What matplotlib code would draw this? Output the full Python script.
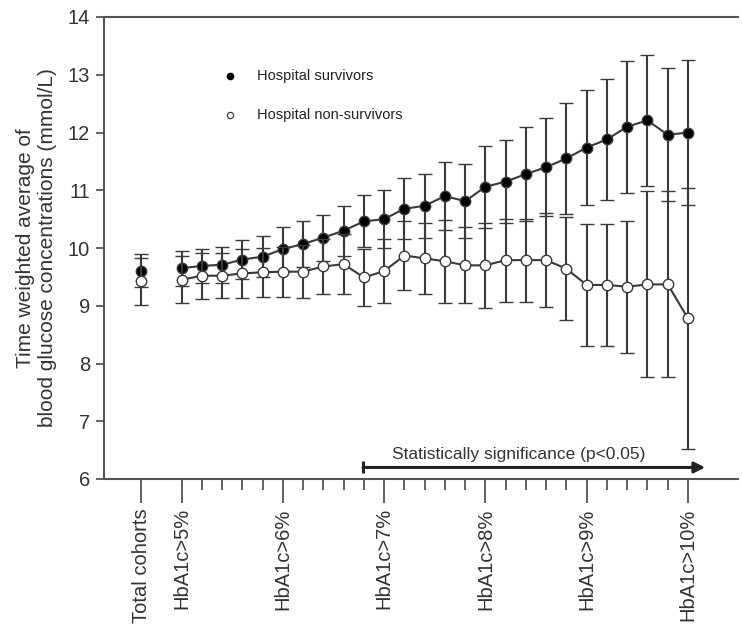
import matplotlib
matplotlib.use("Agg")
import matplotlib.pyplot as plt

plt.rcParams['font.family'] = ['Liberation Sans', 'DejaVu Sans']

# x categories: total cohort first, then HbA1c cut-offs (%)
hba1c_cut = [5.0, 5.2, 5.4, 5.6, 5.8, 6.0, 6.2, 6.4, 6.6, 6.8, 7.0, 7.2, 7.4,
             7.6, 7.8, 8.0, 8.2, 8.4, 8.6, 8.8, 9.0, 9.2, 9.4, 9.6, 9.8, 10.0]
major_cuts = [5, 6, 7, 8, 9, 10]

# values (first value = total cohort)
surv_mean = [9.61, 9.65, 9.69, 9.71, 9.80, 9.85, 9.98, 10.07, 10.18, 10.30,
             10.46, 10.50, 10.68, 10.73, 10.90, 10.81, 11.06, 11.15, 11.28,
             11.40, 11.55, 11.74, 11.88, 12.10, 12.21, 11.96, 12.00]
surv_err = [0.28, 0.30, 0.30, 0.31, 0.34, 0.36, 0.38, 0.40, 0.40, 0.43,
            0.45, 0.50, 0.53, 0.56, 0.59, 0.64, 0.71, 0.72, 0.82, 0.85,
            0.96, 1.00, 1.05, 1.14, 1.14, 1.15, 1.26]
nonsurv_mean = [9.42, 9.45, 9.52, 9.52, 9.56, 9.58, 9.59, 9.59, 9.68, 9.72,
                9.49, 9.60, 9.87, 9.82, 9.77, 9.70, 9.70, 9.79, 9.79, 9.79,
                9.64, 9.36, 9.36, 9.33, 9.37, 9.37, 8.78]
nonsurv_err = [0.40, 0.41, 0.40, 0.39, 0.43, 0.42, 0.43, 0.46, 0.48, 0.52,
               0.49, 0.56, 0.60, 0.62, 0.72, 0.66, 0.74, 0.72, 0.72, 0.81,
               0.89, 1.06, 1.06, 1.14, 1.61, 1.61, 2.26]


def cut_pos(c):
    # total cohort sits at 0, cut-offs start at 2 with one slot per 0.2 %
    return 2 + round((c - 5.0) / 0.2)


xs = [cut_pos(c) for c in hba1c_cut]
dark = '#3a3a3a'

fig = plt.figure(figsize=(7.42, 6.28), dpi=100)
ax = fig.add_axes([104 / 742, 149 / 628, 634 / 742, 462 / 628])

eb = dict(ecolor=dark, elinewidth=1.5, capsize=5, capthick=1.5, color=dark,
          lw=1.5, ms=7.5, mew=1.0, mec=dark)

# hospital survivors
ax.errorbar([0], surv_mean[:1], yerr=surv_err[:1], fmt='o', mfc='black', zorder=3, **eb)
ax.errorbar(xs, surv_mean[1:], yerr=surv_err[1:], fmt='-o', mfc='black', zorder=3, **eb)
# hospital non-survivors
ax.errorbar([0], nonsurv_mean[:1], yerr=nonsurv_err[:1], fmt='o', mfc='white', zorder=4, **eb)
ax.errorbar(xs, nonsurv_mean[1:], yerr=nonsurv_err[1:], fmt='-o', mfc='white', zorder=4, **eb)

# legend drawn inside like the original
ax.plot([4.39], [12.98], 'o', color='black', ms=4.5)
ax.plot([4.39], [12.30], 'o', mfc='white', mec=dark, ms=4.5, mew=0.9)
ax.text(5.73, 12.98, 'Hospital survivors', fontsize=10.5, va='center', color='#222222')
ax.text(5.73, 12.30, 'Hospital non-survivors', fontsize=10.5, va='center', color='#222222')

# significance arrow
ax.annotate('', xy=(27.85, 6.20), xytext=(10.96, 6.20),
            arrowprops=dict(arrowstyle='-|>', color='#222222', lw=2.2,
                            mutation_scale=16, shrinkA=0, shrinkB=0))
ax.plot([10.96], [6.20], marker='|', ms=9, mew=2.2, color='#222222')
ax.text(18.66, 6.42, 'Statistically significance (p<0.05)', fontsize=12.5,
        ha='center', va='center', color='#333333')

ax.set_xlim(-1.83, 29.47)
ax.set_ylim(6, 14)
ax.set_yticks(range(6, 15))
ax.tick_params(axis='y', direction='out', length=6, width=1.3, colors='#555555',
               labelcolor='#333333', labelsize=14.5, pad=4)

major_x = [0] + [cut_pos(c) for c in major_cuts]
major_lbl = ['Total cohorts'] + ['HbA1c>%d%%' % c for c in major_cuts]
ax.set_xticks(major_x)
ax.set_xticklabels(major_lbl, rotation=90, fontsize=14.5, color='#333333')
ax.set_xticks([p for p in xs if p not in major_x], minor=True)
ax.tick_params(axis='x', which='major', direction='out', length=17, width=1.3,
               colors='#555555', labelcolor='#333333', pad=4)
ax.tick_params(axis='x', which='minor', direction='out', length=8, width=1.3,
               colors='#555555')

ax.set_ylabel('Time weighted average of\nblood glucose concentrations (mmol/L)',
              fontsize=15, color='#333333', labelpad=8, linespacing=1.15)

ax.spines['right'].set_visible(False)
for s in ['left', 'bottom', 'top']:
    ax.spines[s].set_color('#555555')
    ax.spines[s].set_linewidth(1.5)

fig.savefig('out.png', dpi=100)
